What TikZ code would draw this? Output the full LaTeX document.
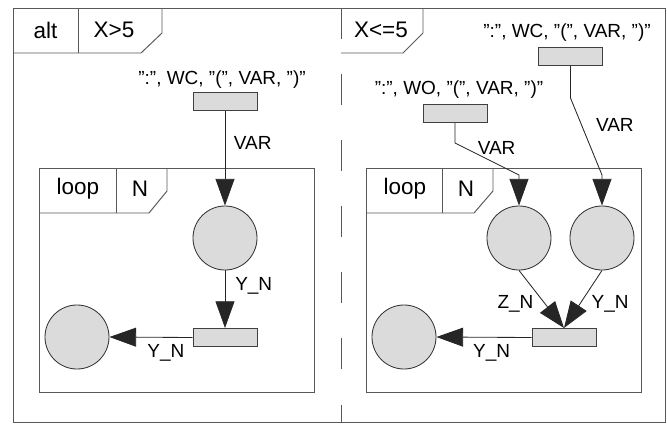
\documentclass[tikz,border=0pt]{standalone}
\usepackage{fontspec}
\setmainfont{Liberation Sans}
\usetikzlibrary{arrows.meta, positioning}

\begin{document}
\begin{tikzpicture}[
  x=0.025cm, y=-0.025cm,
  every node/.style={font=\fontsize{13.5}{15}\selectfont, inner sep=0pt},
  frame line/.style={draw=black!65, line width=0.7pt},
  tab text/.style={font=\fontsize{16}{18}\selectfont},
  port box/.style={rectangle, draw=black!75, fill=black!14, line width=0.7pt,
                   minimum width=1.6cm, minimum height=0.45cm},
  var circle/.style={circle, draw=black!80, fill=black!14, line width=0.6pt,
                     minimum size=1.6cm},
  flow arrow/.style={-{Triangle[length=19pt,width=13.5pt]}, draw=black!85, line width=0.6pt},
]
  \useasboundingbox (0,0) rectangle (667,424);

  % alt fragment with its two operands
  \draw[frame line] (13,8) rectangle (665,422);
  \draw[frame line] (13,53) -- (141,53) -- (162,33) -- (162,8);
  \draw[frame line] (78,8) -- (78,53);
  \draw[frame line, dash pattern=on 22pt off 25pt] (341,8) -- (341,422);
  \draw[frame line] (341,53) -- (403,53) -- (423,33) -- (423,8);
  \node[tab text] (alt) at (45.5,30) {alt};
  \node[tab text] (guardA) at (114,30) {X>5};
  \node[tab text] (guardB) at (381,30) {X<=5};

  % loop fragments
  \draw[frame line] (39,168) rectangle (314,392);
  \draw[frame line] (39,213) -- (149,213) -- (167,191) -- (167,168);
  \draw[frame line] (116,168) -- (116,213);
  \node[tab text] (loopA) at (78,189) {loop};
  \node[tab text] (countA) at (140,189) {N};

  \draw[frame line] (366,168) rectangle (641,392);
  \draw[frame line] (366,213) -- (474,213) -- (493,191) -- (493,168);
  \draw[frame line] (442,168) -- (442,213);
  \node[tab text] (loopB) at (405,189) {loop};
  \node[tab text] (countB) at (466,189) {N};

  % X>5 operand
  \node[port box] (wcA) at (225,101) {};
  \node (wcAtext) at (222,80) {":", WC, "(", VAR, ")"};
  \node[var circle] (yA) at (225,238) {};
  \node[port box] (outA) at (225,337.5) {};
  \node[var circle] (resA) at (77,337) {};

  \draw[flow arrow] (wcA.south) -- node[pos=0.34, right=6pt] {VAR} (yA.north);
  \draw[flow arrow] (yA.south) -- node[pos=0.27, right=7pt] {Y\_N} (outA.north);
  \draw[flow arrow] (outA.west) -- node[pos=0.32, below=5pt] {Y\_N} (resA.east);

  % X<=5 operand
  \node[port box] (wcB) at (570.5,56) {};
  \node (wcBtext) at (567,33) {":", WC, "(", VAR, ")"};
  \node[port box] (woB) at (455,113.5) {};
  \node (woBtext) at (459,90) {":", WO, "(", VAR, ")"};
  \node[var circle] (zB) at (519,238) {};
  \node[var circle] (yB) at (602,238) {};
  \node[port box] (outB) at (564,337.5) {};
  \node[var circle] (resB) at (404,337) {};

  \coordinate (woBend) at (455,143);
  \coordinate (woKnee) at (519,175);
  \coordinate (wcBend) at (570.5,98);
  \coordinate (wcKnee) at (602,175);

  \draw[flow arrow] (woB.south) -- (woBend)
    -- node[pos=0.65, above=6pt] {VAR} (woKnee) -- (zB.north);
  \draw[flow arrow] (wcB.south) -- (wcBend)
    -- node[pos=0.35, right=10pt] {VAR} (wcKnee) -- (yB.north);
  \draw[flow arrow] (zB.south) -- node[pos=0.58, left=8pt] {Z\_N} (outB.north);
  \draw[flow arrow] (yB.south) -- node[pos=0.58, right=8pt] {Y\_N} (outB.north);
  \draw[flow arrow] (outB.west) -- node[pos=0.42, below=5pt] {Y\_N} (resB.east);
\end{tikzpicture}
\end{document}
